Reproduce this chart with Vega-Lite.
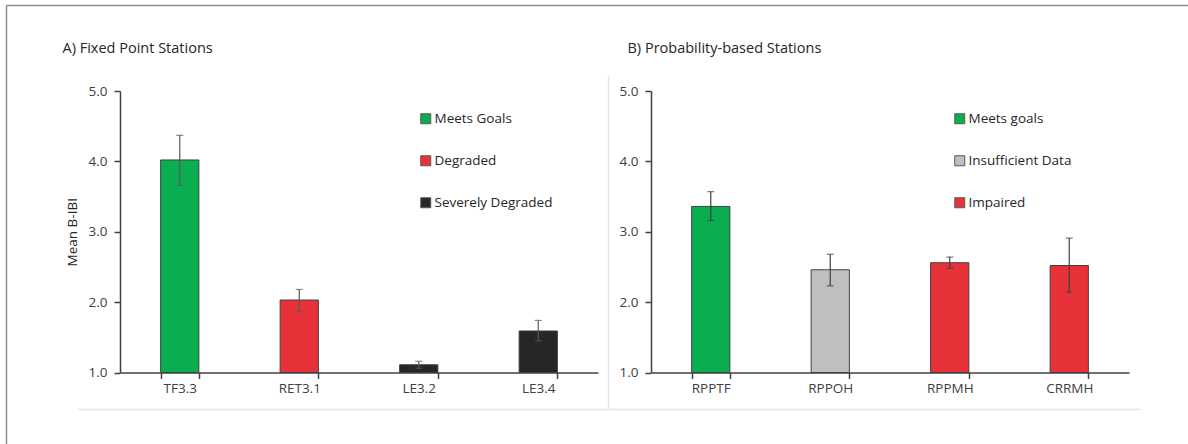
{
  "$schema": "https://vega.github.io/schema/vega-lite/v6.json",
  "width": 1182,
  "height": 439,
  "autosize": {"type": "none"},
  "padding": {"left": 6, "top": 5, "right": 0, "bottom": 0},
  "background": "white",
  "view": {"stroke": null},
  "config": {
    "font": "Open Sans",
    "axis": {
      "domainColor": "#404040", "domainWidth": 1.5,
      "tickColor": "#404040", "tickWidth": 1.5, "tickSize": 6,
      "labelColor": "#404040", "labelFontSize": 13.5, "labelFont": "Open Sans",
      "grid": false,
      "titleFont": "Open Sans", "titleFontWeight": "normal", "titleColor": "#262626"
    },
    "legend": {
      "symbolType": "square", "symbolSize": 100,
      "symbolStrokeColor": "#595959", "symbolStrokeWidth": 1,
      "labelFont": "Open Sans", "labelFontSize": 13.5, "labelColor": "#262626",
      "rowPadding": 27, "padding": 0, "labelOffset": 2
    }
  },
  "datasets": {
    "fixed": [
      {"station": "TF3.3", "status": "Meets Goals", "mean": 4.02, "lo": 3.66, "hi": 4.37},
      {"station": "RET3.1", "status": "Degraded", "mean": 2.03, "lo": 1.87, "hi": 2.18},
      {"station": "LE3.2", "status": "Severely Degraded", "mean": 1.11, "lo": 1.06, "hi": 1.16},
      {"station": "LE3.4", "status": "Severely Degraded", "mean": 1.59, "lo": 1.45, "hi": 1.74}
    ],
    "prob": [
      {"station": "RPPTF", "status": "Meets goals", "mean": 3.36, "lo": 3.16, "hi": 3.57},
      {"station": "RPPOH", "status": "Insufficient Data", "mean": 2.46, "lo": 2.23, "hi": 2.68},
      {"station": "RPPMH", "status": "Impaired", "mean": 2.56, "lo": 2.48, "hi": 2.64},
      {"station": "CRRMH", "status": "Impaired", "mean": 2.52, "lo": 2.14, "hi": 2.91}
    ]
  },
  "layer": [
    {
      "description": "Figure frame: top and left borders drawn as bare axis domain lines",
      "data": {"name": "fixed"},
      "mark": {"type": "point", "opacity": 0},
      "encoding": {
        "x": {
          "field": "mean", "type": "quantitative",
          "scale": {"domain": [0, 5], "range": [0, 1182], "nice": false, "zero": false},
          "axis": {"orient": "top", "labels": false, "ticks": false, "title": null, "domainColor": "#8c8c8c", "domainWidth": 1.5}
        },
        "y": {
          "field": "mean", "type": "quantitative",
          "scale": {"domain": [0, 5], "range": [0, 439], "nice": false, "zero": false},
          "axis": {"orient": "left", "labels": false, "ticks": false, "title": null, "domainColor": "#8c8c8c", "domainWidth": 1.5}
        }
      }
    },
    {
      "description": "Faint panel divider lines",
      "data": {"name": "prob"},
      "mark": {"type": "point", "opacity": 0},
      "encoding": {
        "x": {
          "field": "mean", "type": "quantitative",
          "scale": {"domain": [0, 5], "range": [71, 1134], "nice": false, "zero": false},
          "axis": {"orient": "bottom", "offset": -35, "labels": false, "ticks": false, "title": null, "domainColor": "#e6e6e6", "domainWidth": 1.5}
        },
        "y": {
          "field": "mean", "type": "quantitative",
          "scale": {"domain": [0, 5], "range": [404, 70], "nice": false, "zero": false},
          "axis": {"orient": "left", "offset": -602, "labels": false, "ticks": false, "title": null, "domainColor": "#e6e6e6", "domainWidth": 1.5}
        }
      }
    },
    {
      "data": {"name": "fixed"},
      "encoding": {
        "x": {
          "field": "station", "type": "nominal", "sort": null,
          "scale": {"range": [114, 592], "paddingInner": 0.68, "paddingOuter": 0.34},
          "axis": {
            "orient": "bottom", "offset": -71.5, "labelAngle": 0, "tickBand": "extent", "labelPadding": 3,
            "title": "A) Fixed Point Stations", "titleX": 56, "titleY": -320,
            "titleAlign": "left", "titleBaseline": "alphabetic", "titleFontSize": 14.5
          }
        }
      },
      "layer": [
        {
          "mark": {"type": "bar", "stroke": "#404040", "strokeWidth": 1},
          "encoding": {
            "y": {
              "field": "mean", "type": "quantitative",
              "scale": {"domain": [1, 5], "range": [367.5, 86], "nice": false, "zero": false},
              "axis": {"orient": "left", "offset": -114, "values": [1, 2, 3, 4, 5], "format": ".1f", "labelPadding": 7, "title": "Mean B-IBI", "titleFontSize": 13.5, "titlePadding": 9}
            },
            "y2": {"datum": 1},
            "color": {
              "field": "status", "type": "nominal",
              "scale": {"domain": ["Meets Goals", "Degraded", "Severely Degraded"], "range": ["#0aae50", "#e8323a", "#262626"]},
              "legend": {"orient": "none", "legendX": 413, "legendY": 107, "title": null}
            }
          }
        },
        {
          "mark": {"type": "rule", "color": "#595959", "strokeWidth": 1.2},
          "encoding": {"y": {"field": "lo", "type": "quantitative", "title": "Mean B-IBI"}, "y2": {"field": "hi"}}
        },
        {
          "mark": {"type": "tick", "orient": "horizontal", "size": 7, "thickness": 1.2, "color": "#595959"},
          "encoding": {"y": {"field": "lo", "type": "quantitative", "title": "Mean B-IBI"}}
        },
        {
          "mark": {"type": "tick", "orient": "horizontal", "size": 7, "thickness": 1.2, "color": "#595959"},
          "encoding": {"y": {"field": "hi", "type": "quantitative", "title": "Mean B-IBI"}}
        }
      ]
    },
    {
      "data": {"name": "prob"},
      "encoding": {
        "x": {
          "field": "station", "type": "nominal", "sort": null,
          "scale": {"range": [645, 1123], "paddingInner": 0.68, "paddingOuter": 0.34},
          "axis": {
            "orient": "bottom", "offset": -71.5, "labelAngle": 0, "tickBand": "extent", "labelPadding": 3,
            "title": "B) Probability-based Stations", "titleX": 621, "titleY": -320,
            "titleAlign": "left", "titleBaseline": "alphabetic", "titleFontSize": 14.5
          }
        }
      },
      "layer": [
        {
          "mark": {"type": "bar", "stroke": "#404040", "strokeWidth": 1},
          "encoding": {
            "y": {
              "field": "mean", "type": "quantitative",
              "scale": {"domain": [1, 5], "range": [367.5, 86], "nice": false, "zero": false},
              "axis": {"orient": "left", "offset": -645, "values": [1, 2, 3, 4, 5], "format": ".1f", "labelPadding": 7, "title": null}
            },
            "y2": {"datum": 1},
            "color": {
              "field": "status", "type": "nominal",
              "scale": {"domain": ["Meets goals", "Insufficient Data", "Impaired"], "range": ["#0aae50", "#bfbfbf", "#e8323a"]},
              "legend": {"orient": "none", "legendX": 947, "legendY": 107, "title": null}
            }
          }
        },
        {
          "mark": {"type": "rule", "color": "#404040", "strokeWidth": 1.2},
          "encoding": {"y": {"field": "lo", "type": "quantitative", "title": null}, "y2": {"field": "hi"}}
        },
        {
          "mark": {"type": "tick", "orient": "horizontal", "size": 7, "thickness": 1.2, "color": "#404040"},
          "encoding": {"y": {"field": "lo", "type": "quantitative", "title": null}}
        },
        {
          "mark": {"type": "tick", "orient": "horizontal", "size": 7, "thickness": 1.2, "color": "#404040"},
          "encoding": {"y": {"field": "hi", "type": "quantitative", "title": null}}
        }
      ]
    }
  ],
  "resolve": {"scale": {"x": "independent", "y": "independent", "color": "independent"}}
}
